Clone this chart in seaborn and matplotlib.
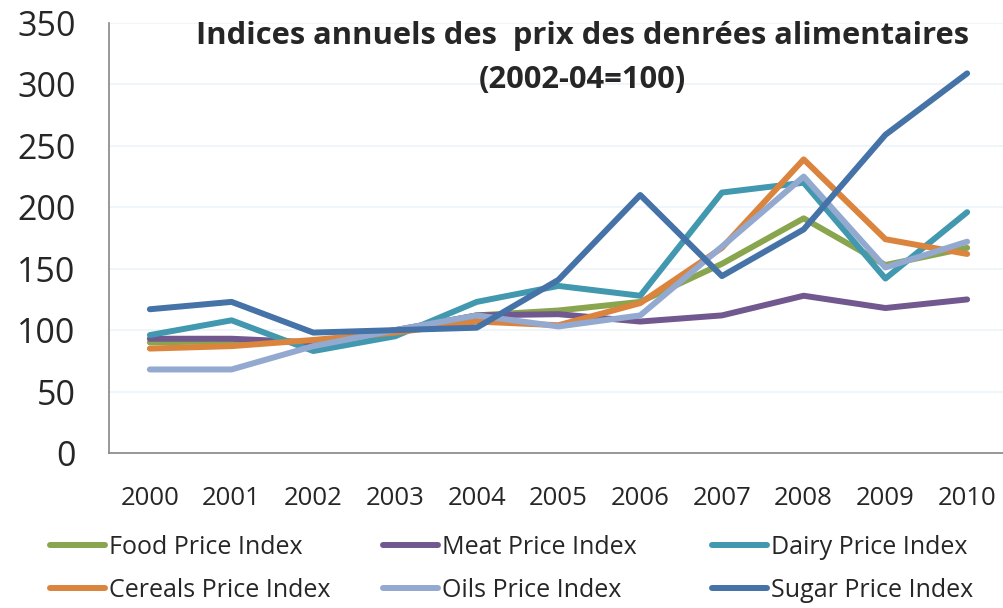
import pandas as pd
import seaborn as sns
import matplotlib.pyplot as plt
from matplotlib.ticker import MultipleLocator, FixedLocator

# Data
years = ["2000", "2001", "2002", "2003", "2004", "2005", "2006", "2007", "2008", "2009", "2010"]
food = [90, 91, 90, 98, 112, 116, 123, 154, 191, 153, 167]
meat = [93, 93, 90, 100, 112, 113, 107, 112, 128, 118, 125]
dairy = [96, 108, 83, 95, 123, 136, 128, 212, 220, 142, 196]
cereals = [85, 87, 92, 98, 107, 104, 122, 167, 239, 174, 162]
oils = [68, 68, 87, 100, 112, 103, 112, 168, 225, 151, 172]
sugar = [117, 123, 98, 100, 102, 141, 210, 144, 182, 259, 309]

names = ["Food Price Index", "Meat Price Index", "Dairy Price Index",
         "Cereals Price Index", "Oils Price Index", "Sugar Price Index"]
colors = ["#89A54E", "#71588F", "#4198AF", "#DB843D", "#93A9CF", "#4572A7"]

rows = []
for name, vals in zip(names, [food, meat, dairy, cereals, oils, sugar]):
    for i, v in enumerate(vals):
        rows.append({"pos": i, "year": years[i], "series": name, "value": v})
df = pd.DataFrame(rows)

sns.set_style("white")
plt.rcParams['font.family'] = ['Open Sans', 'DejaVu Sans']

fig = plt.figure(figsize=(10.04, 6.08), dpi=100)
ax = fig.add_axes([109 / 1004, 155 / 608, 899 / 1004, 430 / 608])

sns.lineplot(data=df, x="pos", y="value", hue="series", hue_order=names,
             palette=colors, linewidth=4.3, ax=ax, legend=False,
             solid_capstyle="round")

ax.set_xlim(-0.5, 10.5)
ax.set_ylim(0, 350)
ax.yaxis.set_major_locator(MultipleLocator(50))
ax.grid(axis="y", color="#eef3f8", linewidth=1.2)
ax.set_axisbelow(True)

ax.set_xticks(range(len(years)))
ax.set_xticklabels(years, fontsize=18.5)
ax.xaxis.set_minor_locator(FixedLocator([i - 0.5 for i in range(len(years) + 1)]))
ax.tick_params(axis="x", which="major", length=0, pad=24)
ax.tick_params(axis="x", which="minor", length=7, width=1.2, color="#868686", direction="out")
ax.tick_params(axis="y", length=8, width=1.2, color="#868686", direction="out", labelsize=24.5, pad=16)
ax.set_xlabel("")
ax.set_ylabel("")

for s in ["top", "right"]:
    ax.spines[s].set_visible(False)
for s in ["left", "bottom"]:
    ax.spines[s].set_color("#868686")
    ax.spines[s].set_linewidth(1.2)

fig.text(582 / 1004, 1 - 36 / 608, "Indices annuels des  prix des denrées alimentaires",
         ha="center", va="center", fontsize=22.2, fontweight="bold")
fig.text(582 / 1004, 1 - 80 / 608, "(2002-04=100)",
         ha="center", va="center", fontsize=22.2, fontweight="bold")

# legend: three columns, Food/Cereals, Meat/Oils, Dairy/Sugar
col_x = [50, 383, 712]
for c, x in enumerate(col_x):
    idx = [c, c + 3]
    hs = [plt.Line2D([], [], color=colors[i], linewidth=4.3) for i in idx]
    fig.legend(hs, [names[i] for i in idx], loc="center left",
               bbox_to_anchor=(x / 1004, 1 - 569 / 608), frameon=False,
               fontsize=18, handlelength=2.2, handletextpad=0.15,
               labelspacing=0.72, borderpad=0, borderaxespad=0)

fig.savefig("out.png", dpi=100)
